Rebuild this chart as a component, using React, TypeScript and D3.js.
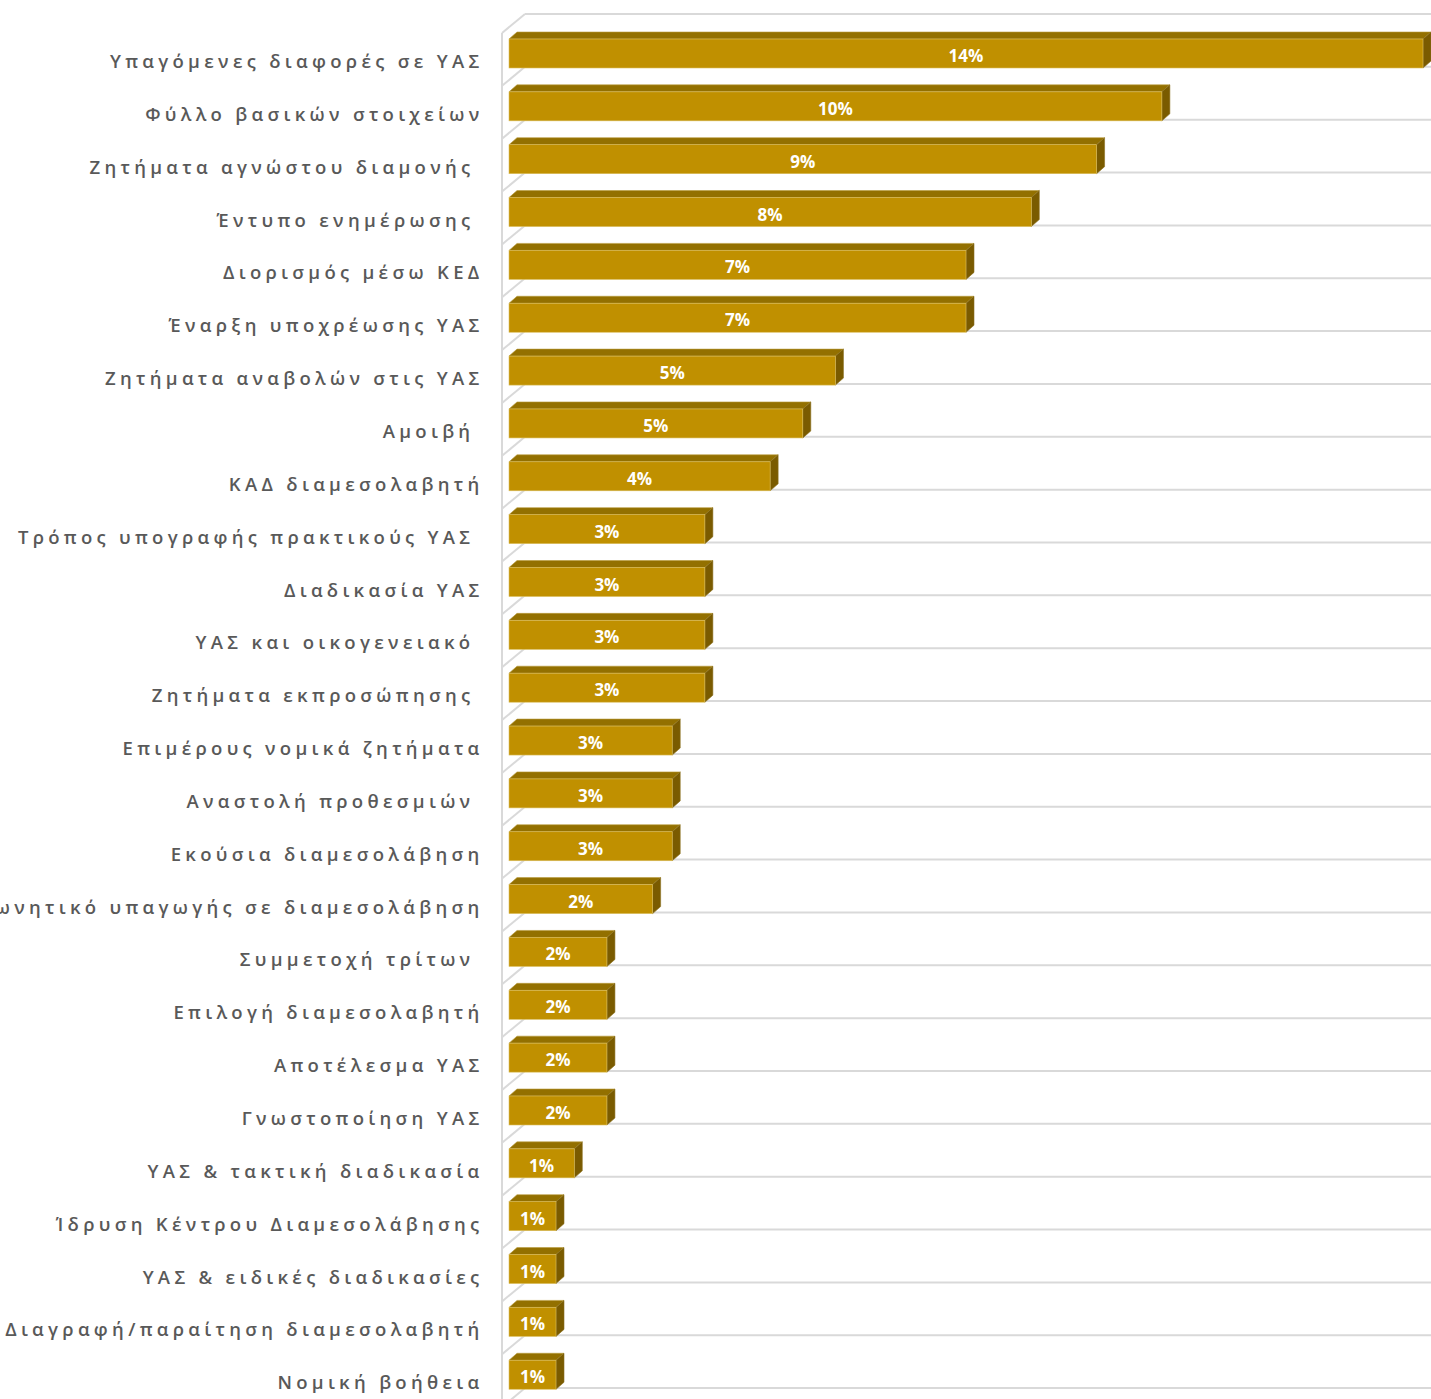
import * as d3 from "d3";

const categories = [
  "Υπαγόμενες διαφορές σε ΥΑΣ",
  "Φύλλο βασικών στοιχείων",
  "Ζητήματα αγνώστου διαμονής ",
  "Έντυπο ενημέρωσης ",
  "Διορισμός μέσω ΚΕΔ",
  "Έναρξη υποχρέωσης ΥΑΣ",
  "Ζητήματα αναβολών στις ΥΑΣ",
  "Αμοιβή ",
  "ΚΑΔ διαμεσολαβητή",
  "Τρόπος υπογραφής πρακτικούς ΥΑΣ ",
  "Διαδικασία ΥΑΣ",
  "ΥΑΣ και οικογενειακό ",
  "Ζητήματα εκπροσώπησης ",
  "Επιμέρους νομικά ζητήματα",
  "Αναστολή προθεσμιών ",
  "Εκούσια διαμεσολάβηση",
  "Συμφωνητικό υπαγωγής σε διαμεσολάβηση",
  "Συμμετοχή τρίτων ",
  "Επιλογή διαμεσολαβητή",
  "Αποτέλεσμα ΥΑΣ",
  "Γνωστοποίηση ΥΑΣ",
  "ΥΑΣ & τακτική διαδικασία",
  "Ίδρυση Κέντρου Διαμεσολάβησης",
  "ΥΑΣ & ειδικές διαδικασίες",
  "Διαγραφή/παραίτηση διαμεσολαβητή",
  "Νομική βοήθεια",
];

// percentages (labels show them rounded)
const values = [
  14, 10, 9, 8, 7, 7, 5, 4.5, 4, 3, 3, 3, 3, 2.5, 2.5, 2.5, 2.2, 1.5, 1.5, 1.5,
  1.5, 1, 0.72, 0.72, 0.72, 0.72,
];

const width = 1431;
const height = 1399;

const front = "#c09000";
const topFace = "#937000";
const sideFace = "#7a5b00";
const grid = "#d9d9d9";

export default function App() {
  const x = d3.scaleLinear().domain([0, 14]).range([509, 1423]);
  const y = d3
    .scaleBand()
    .domain(categories)
    .range([14, 14 + categories.length * 52.85])
    .padding(0);

  const bw = y.bandwidth();
  const wallX = 502;
  const backX = 525;
  const wallDy = 19;
  const dx = 8;
  const dy = 7;
  const barH = 29;

  const gridYs = d3.range(categories.length + 1).map((i) => 14 + i * bw);

  return (
    <svg
      width={width}
      height={height}
      style={{ position: "absolute", left: 0, top: 0, background: "#fff" }}
    >
      {/* walls & gridlines */}
      <line x1={wallX} y1={14 + wallDy} x2={wallX} y2={height} stroke={grid} strokeWidth={2} />
      {gridYs.map((gy, i) => (
        <g key={i}>
          <line x1={wallX} y1={gy + wallDy} x2={backX} y2={gy} stroke={grid} strokeWidth={2} />
          <line x1={backX} y1={gy} x2={width} y2={gy} stroke={grid} strokeWidth={2} />
        </g>
      ))}

      {categories.map((c, i) => {
        const yb = y(c)!;
        const x0 = x(0);
        const x1 = x(values[i]);
        const t = yb + 25;
        const b = t + barH;
        return (
          <g key={c}>
            <polygon
              points={`${x0},${t} ${x0 + dx},${t - dy} ${x1 + dx},${t - dy} ${x1},${t}`}
              fill={topFace}
              stroke="#b89a3a"
              strokeWidth={0.6}
            />
            <polygon
              points={`${x1},${t} ${x1 + dx},${t - dy} ${x1 + dx},${b - dy} ${x1},${b}`}
              fill={sideFace}
              stroke="#8c7020"
              strokeWidth={0.6}
            />
            <rect x={x0} y={t} width={x1 - x0} height={barH} fill={front} stroke="#dcc060" strokeWidth={0.6} />
            <text
              x={(x0 + x1) / 2}
              y={yb + 48}
              textAnchor="middle"
              fill="#fff"
              fontFamily="'Open Sans', sans-serif"
              fontWeight={700}
              fontSize={17}
            >
              {Math.round(values[i]) + "%"}
            </text>
            <text
              x={483.5}
              y={yb + 54}
              textAnchor="end"
              fill="#595959"
              fontFamily="'Open Sans', sans-serif"
              fontWeight={600}
              fontSize={18.5}
              letterSpacing={4.3}
              style={{ whiteSpace: "pre" }}
            >
              {c}
            </text>
          </g>
        );
      })}
    </svg>
  );
}
